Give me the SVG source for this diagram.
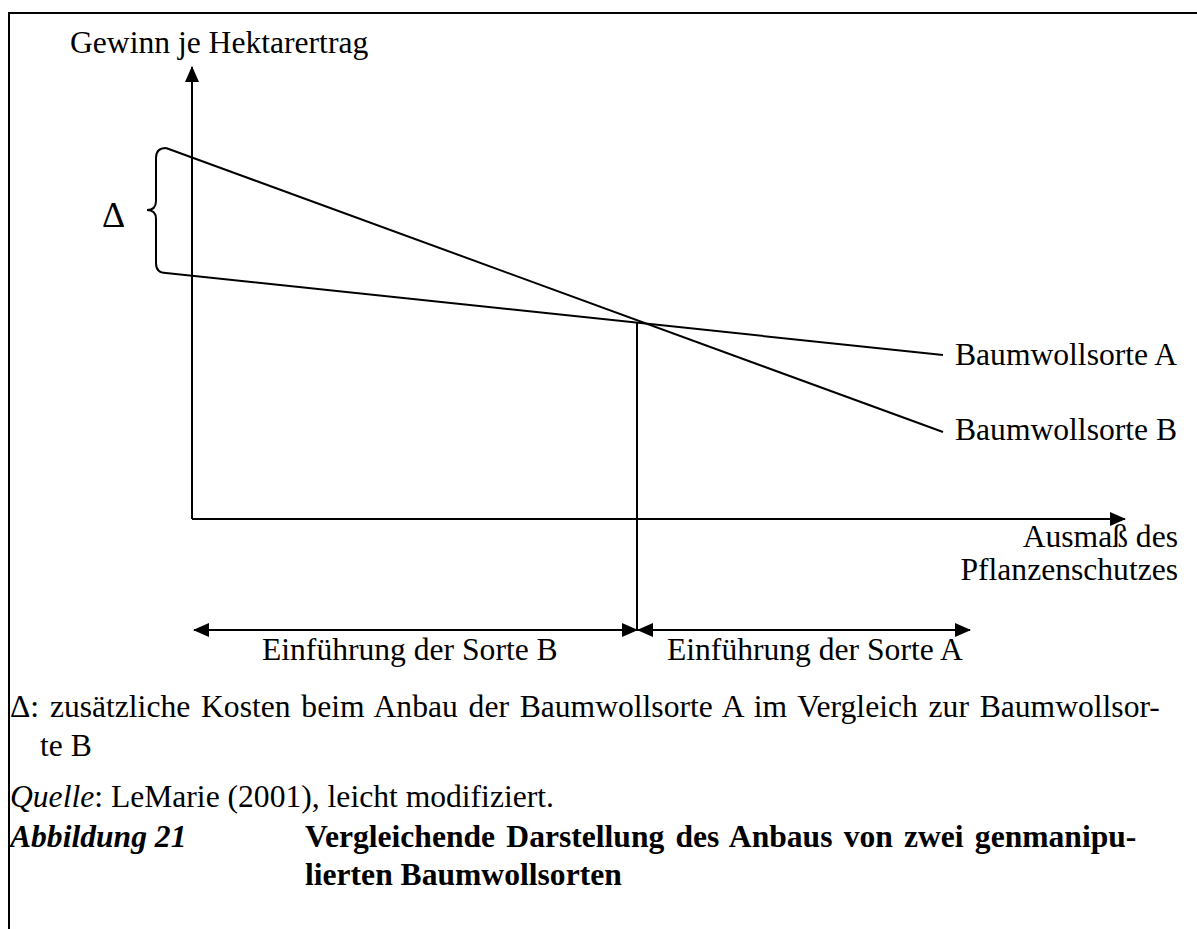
<svg xmlns="http://www.w3.org/2000/svg" width="1197" height="929" viewBox="0 0 1197 929">
<style>
text{font-family:"Liberation Serif","Times New Roman",serif;font-size:31.6px;fill:#000}
.ln{stroke:#000;stroke-width:2;fill:none}
.b{font-weight:bold}
.i{font-style:italic}
</style>
<defs>
<marker id="ah" markerUnits="userSpaceOnUse" markerWidth="16" markerHeight="16" refX="15" refY="8" orient="auto-start-reverse" viewBox="0 0 16 16">
<path d="M0,1 L16,8 L0,15 z" fill="#000"/>
</marker>
</defs>
<rect width="1197" height="929" fill="#fff"/>
<path class="ln" d="M9,929 L9,13 L1197,13"/>
<g id="axes">
<line class="ln" x1="192" y1="519" x2="192" y2="67" marker-end="url(#ah)"/>
<line class="ln" x1="192" y1="519" x2="1125" y2="519" marker-end="url(#ah)"/>
<text id="ylabel" x="70" y="53">Gewinn je Hektarertrag</text>
<text x="1178" y="547" text-anchor="end">Ausmaß des</text>
<text x="1178" y="580" text-anchor="end">Pflanzenschutzes</text>
</g>
<g id="connectors">
<line class="ln" x1="166" y1="148" x2="943" y2="432"/>
<line class="ln" x1="166" y1="273" x2="943" y2="355"/>
<line class="ln" x1="637" y1="322" x2="637" y2="631"/>
<line class="ln" x1="194" y1="630" x2="637" y2="630" marker-start="url(#ah)" marker-end="url(#ah)"/>
<line class="ln" x1="638" y1="630" x2="970" y2="630" marker-start="url(#ah)" marker-end="url(#ah)"/>
</g>
<g id="brace">
<path class="ln" d="M166,148 Q156,148 156,158 L156,201 Q156,210 147,210 Q156,210 156,219 L156,263 Q156,273 166,273"/>
<text x="102" y="227" style="font-size:36px">Δ</text>
</g>
<g id="sorteA"><text x="955" y="365">Baumwollsorte A</text></g>
<g id="sorteB"><text x="955" y="440">Baumwollsorte B</text></g>
<g id="einfB"><text x="262" y="660">Einführung der Sorte B</text></g>
<g id="einfA"><text x="667" y="660">Einführung der Sorte A</text></g>
<g id="caption">
<text x="10" y="717" style="word-spacing:2.9px">Δ: zusätzliche Kosten beim Anbau der Baumwollsorte A im Vergleich zur Baumwollsor-</text>
<text x="40" y="756">te B</text>
<text x="10" y="807"><tspan class="i">Quelle</tspan>: LeMarie (2001), leicht modifiziert.</text>
<text x="10" y="847" class="b i">Abbildung 21</text>
<text x="305" y="847" class="b" style="word-spacing:3.3px">Vergleichende Darstellung des Anbaus von zwei genmanipu-</text>
<text x="305" y="885" class="b">lierten Baumwollsorten</text>
</g>
</svg>
